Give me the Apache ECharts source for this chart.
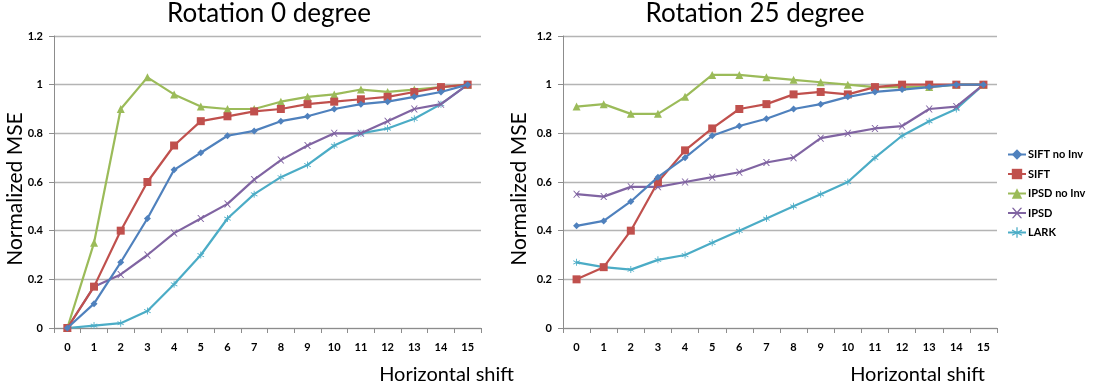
<!DOCTYPE html>
<html>
<head>
<meta charset="utf-8">
<script src="https://cdn.jsdelivr.net/npm/echarts@6/dist/echarts.min.js"></script>
<style>
  html, body { margin: 0; padding: 0; background: #fff; }
  #chart { width: 1094px; height: 392px; }
</style>
</head>
<body>
<div id="chart"></div>
<script>
// Horizontal shift steps on the x axis
const shifts = ['0','1','2','3','4','5','6','7','8','9','10','11','12','13','14','15'];
const seriesNames = ['SIFT no Inv', 'SIFT', 'IPSD no Inv', 'IPSD', 'LARK'];

// Normalized MSE, rotation 0 degree
const rot0SiftNoInv = [0, 0.10, 0.27, 0.45, 0.65, 0.72, 0.79, 0.81, 0.85, 0.87, 0.90, 0.92, 0.93, 0.95, 0.97, 1.00];
const rot0Sift      = [0, 0.17, 0.40, 0.60, 0.75, 0.85, 0.87, 0.89, 0.90, 0.92, 0.93, 0.94, 0.95, 0.97, 0.99, 1.00];
const rot0IpsdNoInv = [0, 0.35, 0.90, 1.03, 0.96, 0.91, 0.90, 0.90, 0.93, 0.95, 0.96, 0.98, 0.97, 0.98, 0.99, 1.00];
const rot0Ipsd      = [0, 0.17, 0.22, 0.30, 0.39, 0.45, 0.51, 0.61, 0.69, 0.75, 0.80, 0.80, 0.85, 0.90, 0.92, 1.00];
const rot0Lark      = [0, 0.01, 0.02, 0.07, 0.18, 0.30, 0.45, 0.55, 0.62, 0.67, 0.75, 0.80, 0.82, 0.86, 0.92, 1.00];

// Normalized MSE, rotation 25 degree
const rot25SiftNoInv = [0.42, 0.44, 0.52, 0.62, 0.70, 0.79, 0.83, 0.86, 0.90, 0.92, 0.95, 0.97, 0.98, 0.99, 1.00, 1.00];
const rot25Sift      = [0.20, 0.25, 0.40, 0.60, 0.73, 0.82, 0.90, 0.92, 0.96, 0.97, 0.96, 0.99, 1.00, 1.00, 1.00, 1.00];
const rot25IpsdNoInv = [0.91, 0.92, 0.88, 0.88, 0.95, 1.04, 1.04, 1.03, 1.02, 1.01, 1.00, 0.99, 0.99, 0.99, 1.00, 1.00];
const rot25Ipsd      = [0.55, 0.54, 0.58, 0.58, 0.60, 0.62, 0.64, 0.68, 0.70, 0.78, 0.80, 0.82, 0.83, 0.90, 0.91, 1.00];
const rot25Lark      = [0.27, 0.25, 0.24, 0.28, 0.30, 0.35, 0.40, 0.45, 0.50, 0.55, 0.60, 0.70, 0.79, 0.85, 0.90, 1.00];

const colors = ['#4F81BD', '#C0504D', '#9BBB59', '#8064A2', '#4BACC6'];
const xMark = 'path://M0,0L1.6,0L5,3.8L8.4,0L10,0L5.8,5L10,10L8.4,10L5,6.2L1.6,10L0,10L4.2,5Z';
const starMark = 'path://M4.4,0H5.6V4.2L9.3,2.2L9.9,3.2L6.2,5.2L9.9,7.2L9.3,8.2L5.6,6.2V10H4.4V6.2L0.7,8.2L0.1,7.2L3.8,5.2L0.1,3.2L0.7,2.2L4.4,4.2Z';
const symbols = ['diamond', 'rect', 'triangle', xMark, starMark];
const symbolSizes = [7, 8, 8, 7, 7];

const labelFont = 'Lato, "Open Sans", sans-serif';

function makeSeries(dataList, idx) {
  return dataList.map((d, i) => ({
    name: seriesNames[i],
    type: 'line',
    xAxisIndex: idx,
    yAxisIndex: idx,
    data: d,
    symbol: symbols[i],
    symbolSize: symbolSizes[i],
    showAllSymbol: true,
    lineStyle: { width: 2.2, color: colors[i] },
    itemStyle: { color: colors[i] },
    z: 10 - i
  }));
}

function xAxisCfg(gridIndex) {
  return {
    type: 'category',
    gridIndex,
    data: shifts,
    boundaryGap: true,
    axisLine: { lineStyle: { color: '#8c8c8c', width: 1 } },
    axisTick: { show: true, alignWithLabel: false, length: 5, lineStyle: { color: '#8c8c8c' } },
    axisLabel: { color: '#000', fontWeight: 'bold', fontSize: 11, fontFamily: labelFont, margin: 14 },
    splitLine: { show: false }
  };
}

function yAxisCfg(gridIndex) {
  return {
    type: 'value',
    gridIndex,
    min: 0,
    max: 1.2,
    interval: 0.2,
    axisLine: { show: true, lineStyle: { color: '#8c8c8c', width: 1 } },
    axisTick: { show: true, length: 5, lineStyle: { color: '#8c8c8c' } },
    axisLabel: {
      color: '#000', fontWeight: 'bold', fontSize: 11, fontFamily: labelFont, margin: 11,
      formatter: v => (Math.round(v * 10) / 10).toString()
    },
    splitLine: { show: true, lineStyle: { color: '#b4b4b4', width: 1.3 } }
  };
}

const titleFont = { color: '#000', fontFamily: labelFont, fontWeight: 'normal' };

const option = {
  animation: false,
  backgroundColor: '#fff',
  color: colors,
  title: [
    { text: 'Rotation 0 degree', left: 264, top: -4, textAlign: 'center', textStyle: Object.assign({ fontSize: 26 }, titleFont) },
    { text: 'Rotation 25 degree', left: 750, top: -4, textAlign: 'center', textStyle: Object.assign({ fontSize: 26 }, titleFont) },
    { text: 'Horizontal shift', right: 575, top: 360, textStyle: Object.assign({ fontSize: 20 }, titleFont) },
    { text: 'Horizontal shift', right: 104, top: 360, textStyle: Object.assign({ fontSize: 20 }, titleFont) }
  ],
  graphic: [
    { type: 'text', x: 5, y: 189, rotation: Math.PI / 2, style: { text: 'Normalized MSE', font: '21px ' + labelFont, fill: '#000', textAlign: 'center', textVerticalAlign: 'top' } },
    { type: 'text', x: 509, y: 189, rotation: Math.PI / 2, style: { text: 'Normalized MSE', font: '21px ' + labelFont, fill: '#000', textAlign: 'center', textVerticalAlign: 'top' } }
  ],
  legend: {
    orient: 'vertical',
    left: 1002,
    top: 144,
    itemGap: 8.5,
    itemWidth: 18,
    itemHeight: 13,
    data: seriesNames,
    textStyle: { color: '#000', fontWeight: 'bold', fontSize: 11, fontFamily: labelFont, padding: [0, 0, 0, -3] }
  },
  grid: [
    { left: 54, top: 36, width: 427, height: 292 },
    { left: 563, top: 36, width: 434, height: 292 }
  ],
  xAxis: [xAxisCfg(0), xAxisCfg(1)],
  yAxis: [yAxisCfg(0), yAxisCfg(1)],
  series: [
    ...makeSeries([rot0SiftNoInv, rot0Sift, rot0IpsdNoInv, rot0Ipsd, rot0Lark], 0),
    ...makeSeries([rot25SiftNoInv, rot25Sift, rot25IpsdNoInv, rot25Ipsd, rot25Lark], 1)
  ]
};

const chart = echarts.init(document.getElementById('chart'), null, { renderer: 'canvas' });
chart.setOption(option);
</script>
</body>
</html>
